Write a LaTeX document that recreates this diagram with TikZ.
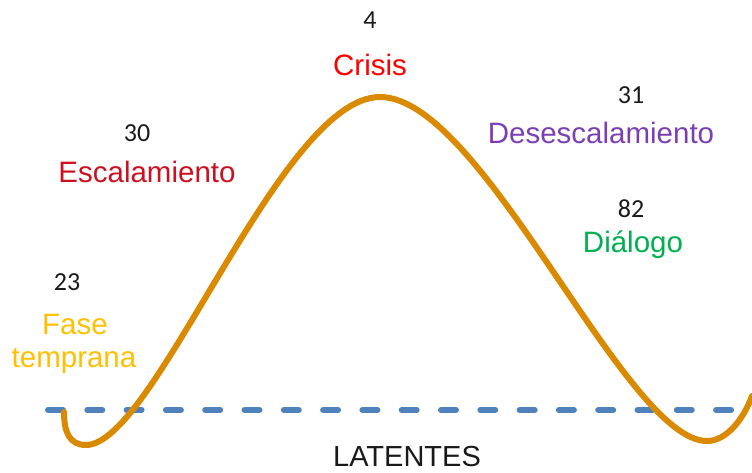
\documentclass[tikz,border=0pt]{standalone}
\usepackage{fontspec}
\setmainfont{Liberation Sans}
\newfontfamily\numfont{Carlito}
\definecolor{curvecol}{RGB}{217,138,0}
\definecolor{dashcol}{RGB}{79,129,189}
\definecolor{crisiscol}{RGB}{255,0,0}
\definecolor{escalcol}{RGB}{204,16,32}
\definecolor{descol}{RGB}{123,63,181}
\definecolor{dialcol}{RGB}{0,176,80}
\definecolor{fasecol}{RGB}{255,192,0}
\tikzset{
  lbl/.style={inner sep=0pt, anchor=base, font=\fontsize{29.5}{34}\selectfont},
  num/.style={inner sep=0pt, anchor=base, font=\numfont\fontsize{26}{30}\selectfont, text=black!90},
  wave/.style={draw=curvecol, line width=6pt, line cap=round, line join=round},
  baseline line/.style={draw=dashcol, line width=6pt, line cap=round, dash pattern=on 15pt off 24.3pt}
}
\begin{document}
\begin{tikzpicture}[x=1pt,y=-1pt]
\useasboundingbox (0,0) rectangle (752,472);
% dashed baseline
\coordinate (dl) at (48,410);
\coordinate (dr) at (760,410);
\draw[baseline line] (dl) -- (dr);
% wave
\coordinate (w0) at (64,412);
\coordinate (w1) at (86,445);
\coordinate (w2) at (380,97);
\coordinate (w3) at (707,441);
\coordinate (w4) at (752,396);
\draw[wave] (w0) .. controls (64,433) and (70,445) .. (w1)
  .. controls (155,445) and (280,97) .. (w2)
  .. controls (483,97) and (625,441) .. (w3)
  .. controls (727,441) and (744,418) .. (w4);
% labels
\node[num] (n4) at (370,28) {4};
\node[lbl, text=crisiscol] (crisis) at (370,75) {Crisis};
\node[num] (n30) at (137,141) {30};
\node[lbl, text=escalcol] (escal) at (147,182) {Escalamiento};
\node[num] (n31) at (631,103) {31};
\node[lbl, text=descol] (desesc) at (601,143) {Desescalamiento};
\node[num] (n82) at (631,217) {82};
\node[lbl, text=dialcol] (dialogo) at (633,252) {Diálogo};
\node[num] (n23) at (67,290) {23};
\node[lbl, text=fasecol] (fase) at (75,334) {Fase};
\node[lbl, text=fasecol] (temprana) at (74,367) {temprana};
\node[lbl, text=black!90, font=\fontsize{29}{34}\selectfont] (latentes) at (407,466) {LATENTES};
\end{tikzpicture}
\end{document}
